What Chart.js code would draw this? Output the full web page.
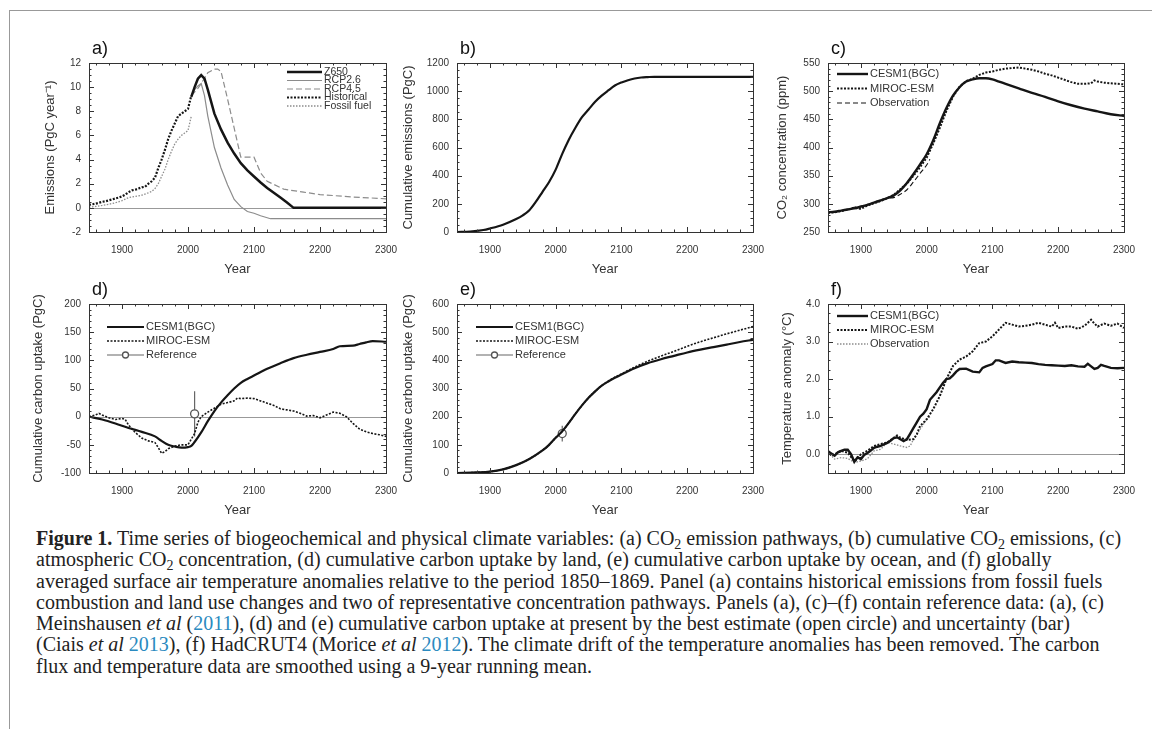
<!DOCTYPE html>
<html>
<head>
<meta charset="utf-8">
<script src="https://cdn.jsdelivr.net/npm/chart.js@4.4.0/dist/chart.umd.min.js"></script>
<style>
body { margin: 0; width: 1152px; height: 729px; background: #fff; position: relative; overflow: hidden; }
#frame { position: absolute; left: 9px; top: 10px; width: 1200px; height: 800px; border-left: 1.5px solid #999; border-top: 1.5px solid #999; }
canvas { position: absolute; }
#caption { position: absolute; left: 36px; top: 528px; font-family: "Liberation Serif", serif; font-size: 20px; line-height: 21.3px; color: #222; white-space: nowrap; }
#caption sub { font-size: 0.7em; line-height: 0; vertical-align: -0.25em; }
.cite { color: #2a8ac0; }
</style>
</head>
<body>
<div id="frame"></div>
<div id="caption">
<b>Figure 1.</b> Time series of biogeochemical and physical climate variables: (a) CO<sub>2</sub> emission pathways, (b) cumulative CO<sub>2</sub> emissions, (c)<br>
atmospheric CO<sub>2</sub> concentration, (d) cumulative carbon uptake by land, (e) cumulative carbon uptake by ocean, and (f) globally<br>
averaged surface air temperature anomalies relative to the period 1850–1869. Panel (a) contains historical emissions from fossil fuels<br>
combustion and land use changes and two of representative concentration pathways. Panels (a), (c)–(f) contain reference data: (a), (c)<br>
Meinshausen <i>et al</i> (<span class="cite">2011</span>), (d) and (e) cumulative carbon uptake at present by the best estimate (open circle) and uncertainty (bar)<br>
(Ciais <i>et al</i> <span class="cite">2013</span>), (f) HadCRUT4 (Morice <i>et al</i> <span class="cite">2012</span>). The climate drift of the temperature anomalies has been removed. The carbon<br>
flux and temperature data are smoothed using a 9-year running mean.
</div>
<script>
// x axis shared by all panels
const yearTicks = [1900, 2000, 2100, 2200, 2300];

// (a) emissions, PgC/yr
const z650 = [[2005,9.2],[2010,10.0],[2015,10.7],[2020,11.0],[2025,10.7],[2030,9.8],[2040,7.8],[2050,6.5],[2060,5.4],[2070,4.5],[2080,3.7],[2090,3.1],[2100,2.6],[2110,2.1],[2120,1.65],[2130,1.25],[2140,0.85],[2150,0.45],[2160,0],[2300,0]];
const rcp26 = [[2005,9.3],[2010,9.8],[2015,10.1],[2020,10.3],[2025,9.3],[2030,7.6],[2040,5.0],[2050,3.3],[2060,1.9],[2070,0.7],[2080,0.1],[2090,-0.3],[2100,-0.45],[2110,-0.65],[2125,-0.9],[2300,-0.9]];
const rcp45 = [[2005,9.3],[2010,9.6],[2015,9.9],[2020,10.3],[2030,11.2],[2040,11.5],[2045,11.5],[2050,11.3],[2060,9.0],[2070,6.6],[2080,4.2],[2100,4.2],[2110,2.9],[2120,2.2],[2145,1.55],[2175,1.3],[2200,1.1],[2250,0.9],[2300,0.75]];
const historical = [[1850,0.25],[1855,0.3],[1860,0.35],[1865,0.42],[1870,0.5],[1875,0.55],[1880,0.62],[1885,0.7],[1890,0.78],[1895,0.85],[1900,0.95],[1905,1.1],[1910,1.3],[1915,1.45],[1920,1.5],[1925,1.6],[1930,1.7],[1935,1.75],[1940,2.0],[1945,2.2],[1950,2.5],[1955,3.3],[1960,4.0],[1965,4.8],[1970,5.7],[1975,6.4],[1980,7.0],[1985,7.6],[1990,7.8],[1995,8.0],[2000,8.2],[2005,9.3]];
const fossil = [[1850,0.05],[1860,0.12],[1870,0.2],[1880,0.3],[1890,0.42],[1900,0.6],[1910,0.85],[1920,0.95],[1930,1.05],[1940,1.25],[1945,1.35],[1950,1.6],[1955,2.0],[1960,2.6],[1965,3.2],[1970,4.0],[1975,4.7],[1980,5.3],[1985,5.7],[1990,6.0],[1995,6.2],[2000,6.4],[2005,7.6]];

// (b) cumulative emissions, PgC
const cumEmis = [[1850,0],[1870,3],[1890,14],[1900,25],[1920,52],[1940,92],[1950,118],[1960,155],[1970,215],[1980,285],[1990,355],[2000,443],[2010,555],[2020,655],[2030,740],[2040,815],[2050,870],[2060,925],[2070,968],[2080,1005],[2090,1040],[2100,1062],[2110,1078],[2120,1090],[2130,1097],[2140,1100],[2150,1102],[2300,1102]];

// (c) CO2 concentration, ppm
const cesmCo2 = [[1850,285],[1860,286],[1870,288],[1880,290],[1890,292],[1900,295],[1910,298],[1920,302],[1930,306],[1940,310],[1950,315],[1960,324],[1970,337],[1980,353],[1990,370],[2000,388],[2010,413],[2020,443],[2030,470],[2040,492],[2050,507],[2060,517],[2070,521],[2080,523],[2090,523],[2100,521],[2110,517],[2120,513],[2140,505],[2160,497],[2180,490],[2200,482],[2220,475],[2240,469],[2260,464],[2280,459],[2300,456]];
const mirocCo2 = [[1850,284],[1860,285],[1870,287],[1880,290],[1890,293],[1900,291],[1910,297],[1920,301],[1930,305],[1940,310],[1950,316],[1960,326],[1970,336],[1980,350],[1990,365],[2000,382],[2010,407],[2020,435],[2030,465],[2040,490],[2050,508],[2060,518],[2070,522],[2080,529],[2090,533],[2100,535],[2110,538],[2120,540],[2130,541],[2140,542],[2150,540],[2160,538],[2170,535],[2180,531],[2190,528],[2200,524],[2210,520],[2220,516],[2230,513],[2240,513],[2250,514],[2255,519],[2260,517],[2270,515],[2280,514],[2290,513],[2300,512]];
const obsCo2 = [[1850,285],[1870,287],[1890,294],[1900,296],[1910,299],[1920,303],[1930,307],[1940,310],[1950,311],[1960,317],[1970,325],[1980,339],[1990,354],[2000,369],[2005,379]];

// (d) cumulative land uptake, PgC
const cesmLand = [[1850,0],[1870,-5],[1890,-12],[1910,-20],[1930,-27],[1950,-35],[1960,-43],[1970,-50],[1980,-53],[1990,-55],[2000,-54],[2005,-52],[2010,-45],[2020,-28],[2030,-8],[2040,10],[2050,25],[2060,38],[2070,50],[2080,60],[2090,67],[2100,73],[2120,85],[2140,95],[2160,104],[2180,110],[2200,115],[2220,120],[2230,125],[2250,126],[2260,129],[2270,132],[2280,134],[2300,133]];
const mirocLand = [[1850,0],[1860,3],[1865,6],[1870,3],[1880,-2],[1890,-5],[1900,-3],[1905,-5],[1910,-15],[1920,-28],[1930,-38],[1940,-43],[1950,-46],[1955,-55],[1960,-65],[1965,-62],[1970,-57],[1980,-52],[1990,-50],[2000,-50],[2010,-30],[2015,-10],[2020,0],[2030,8],[2040,15],[2050,22],[2060,25],[2070,28],[2075,33],[2080,32],[2090,33],[2100,32],[2110,28],[2120,24],[2130,20],[2140,14],[2150,12],[2160,10],[2170,6],[2180,1],[2190,2],[2200,-2],[2210,3],[2220,8],[2230,6],[2240,0],[2250,-12],[2260,-22],[2270,-27],[2280,-30],[2290,-32],[2300,-35]];
const refLand = [[2010,5]];
const refLandBar = [2010, -35, 45];

// (e) cumulative ocean uptake, PgC
const cesmOcean = [[1850,0],[1880,2],[1900,5],[1920,13],[1940,28],[1960,50],[1980,80],[1990,100],[2000,125],[2010,148],[2020,178],[2030,210],[2040,240],[2050,267],[2060,290],[2070,310],[2080,325],[2090,338],[2100,350],[2120,372],[2140,390],[2160,404],[2180,416],[2200,428],[2220,438],[2240,447],[2260,456],[2280,465],[2300,473]];
const mirocOcean = [[1850,0],[1880,2],[1900,5],[1920,13],[1940,28],[1960,50],[1980,80],[1990,100],[2000,125],[2010,148],[2020,178],[2030,210],[2040,240],[2050,267],[2060,290],[2070,310],[2080,326],[2090,340],[2100,352],[2120,376],[2140,397],[2160,415],[2180,432],[2200,450],[2220,466],[2240,480],[2260,494],[2280,507],[2300,520]];
const refOcean = [[2010,140]];
const refOceanBar = [2010, 112, 168];

// (f) temperature anomaly, degC
const cesmTemp = [[1850,0.08],[1855,0.02],[1860,-0.04],[1865,0.05],[1870,0.09],[1875,0.12],[1880,0.12],[1885,0.0],[1890,-0.2],[1895,-0.08],[1900,-0.13],[1905,-0.02],[1910,0.03],[1915,0.1],[1920,0.17],[1925,0.2],[1930,0.22],[1935,0.26],[1940,0.3],[1945,0.36],[1950,0.43],[1955,0.45],[1960,0.4],[1965,0.35],[1970,0.4],[1975,0.55],[1980,0.7],[1985,0.85],[1990,1.0],[1995,1.08],[2000,1.2],[2005,1.45],[2010,1.55],[2015,1.65],[2020,1.78],[2025,1.9],[2030,2.0],[2035,2.02],[2040,2.1],[2045,2.2],[2050,2.27],[2060,2.28],[2070,2.2],[2080,2.18],[2085,2.3],[2090,2.34],[2100,2.4],[2105,2.5],[2110,2.5],[2120,2.43],[2130,2.47],[2140,2.45],[2150,2.44],[2160,2.43],[2170,2.4],[2180,2.38],[2190,2.37],[2200,2.36],[2210,2.35],[2220,2.37],[2230,2.34],[2240,2.33],[2245,2.41],[2250,2.34],[2255,2.27],[2260,2.3],[2265,2.38],[2270,2.35],[2280,2.3],[2290,2.29],[2300,2.3]];
const mirocTemp = [[1850,0.09],[1855,-0.04],[1860,0.0],[1870,0.09],[1880,0.04],[1890,-0.18],[1895,-0.12],[1900,0.0],[1910,0.09],[1920,0.22],[1930,0.27],[1940,0.31],[1950,0.44],[1955,0.5],[1960,0.44],[1970,0.38],[1980,0.4],[1985,0.53],[1990,0.75],[2000,0.93],[2010,1.2],[2020,1.55],[2030,2.0],[2040,2.35],[2050,2.52],[2060,2.6],[2070,2.74],[2080,2.96],[2090,3.0],[2100,3.14],[2110,3.32],[2120,3.5],[2130,3.45],[2140,3.4],[2150,3.42],[2160,3.45],[2170,3.5],[2180,3.45],[2190,3.4],[2195,3.5],[2200,3.36],[2210,3.4],[2220,3.4],[2230,3.34],[2240,3.42],[2250,3.58],[2255,3.48],[2260,3.4],[2270,3.48],[2280,3.42],[2290,3.48],[2300,3.36]];
const obsTemp = [[1850,0.06],[1860,-0.13],[1870,-0.09],[1880,-0.11],[1890,-0.22],[1900,-0.18],[1910,-0.12],[1920,0.09],[1930,0.13],[1940,0.31],[1950,0.27],[1960,0.22],[1970,0.18],[1975,0.22],[1980,0.4],[1990,0.66],[2000,0.93],[2005,1.0]];

const FONT = '"Liberation Sans", Arial, sans-serif';
const pts = arr => arr.map(([x, y]) => ({ x, y }));

function line(label, data, color, width, dash, smooth) {
    return {
        label: label,
        data: pts(data),
        borderColor: color,
        borderWidth: width,
        borderDash: dash || [],
        pointRadius: 0,
        fill: false,
        cubicInterpolationMode: smooth ? "monotone" : "default",
        tension: 0,
    };
}

function refPoint(data) {
    return {
        label: "Reference",
        data: pts(data),
        showLine: false,
        borderColor: "#666",
        borderWidth: 1.2,
        pointRadius: 4,
        pointBackgroundColor: "#fff",
        pointBorderColor: "#555",
        pointBorderWidth: 1.3,
        marker: true,
    };
}

/* frame, inward ticks on all sides, zero line, legend, panel letter */
const deco = {
    id: "deco",
    beforeDatasetsDraw(chart, args, o) {
        const { ctx, chartArea: a, scales: { x, y } } = chart;
        ctx.save();
        if (o.zero) {
            const py = Math.round(y.getPixelForValue(0)) + 0.5;
            ctx.strokeStyle = "#999";
            ctx.lineWidth = 1;
            ctx.beginPath();
            ctx.moveTo(a.left, py);
            ctx.lineTo(a.right, py);
            ctx.stroke();
        }
        if (o.bar) {
            const px = x.getPixelForValue(o.bar[0]);
            ctx.strokeStyle = "#666";
            ctx.lineWidth = 1.2;
            ctx.beginPath();
            ctx.moveTo(px, y.getPixelForValue(o.bar[1]));
            ctx.lineTo(px, y.getPixelForValue(o.bar[2]));
            ctx.stroke();
        }
        ctx.restore();
    },
    afterDatasetsDraw(chart, args, o) {
        const { ctx, chartArea: a, scales: { x, y } } = chart;
        ctx.save();
        ctx.strokeStyle = "#333";
        ctx.lineWidth = 1;
        ctx.strokeRect(Math.round(a.left) + 0.5, Math.round(a.top) + 0.5,
            Math.round(a.right - a.left), Math.round(a.bottom - a.top));

        const xMajor = x.ticks.map(t => t.value);
        const yMajor = y.ticks.map(t => t.value);
        const isMajor = (v, list) => list.some(m => Math.abs(m - v) < 1e-6);
        ctx.beginPath();
        const nx = Math.round((x.max - x.min) / o.xMinor);
        for (let i = 0; i <= nx; i++) {
            const v = Math.ceil(x.min / o.xMinor) * o.xMinor + i * o.xMinor;
            if (v > x.max) break;
            const len = isMajor(v, xMajor) ? 5 : 2.5;
            const px = Math.round(x.getPixelForValue(v)) + 0.5;
            ctx.moveTo(px, a.bottom); ctx.lineTo(px, a.bottom - len);
            ctx.moveTo(px, a.top); ctx.lineTo(px, a.top + len);
        }
        const ny = Math.round((y.max - y.min) / o.yMinor);
        for (let i = 0; i <= ny; i++) {
            const v = y.min + i * o.yMinor;
            const len = isMajor(v, yMajor) ? 5 : 2.5;
            const py = Math.round(y.getPixelForValue(v)) + 0.5;
            ctx.moveTo(a.left, py); ctx.lineTo(a.left + len, py);
            ctx.moveTo(a.right, py); ctx.lineTo(a.right - len, py);
        }
        ctx.stroke();

        // panel letter
        ctx.fillStyle = "#111";
        ctx.font = "18px " + FONT;
        ctx.textBaseline = "alphabetic";
        ctx.fillText(o.letter, a.left + 3, a.top - 9);

        // legend built from the datasets
        const lg = o.legend;
        if (lg) {
            ctx.font = lg.size + "px " + FONT;
            ctx.textBaseline = "middle";
            let ly = a.top + lg.dy;
            chart.data.datasets.forEach(d => {
                const lx = a.left + lg.dx;
                ctx.strokeStyle = d.borderColor;
                ctx.lineWidth = d.borderWidth;
                ctx.setLineDash(d.borderDash || []);
                ctx.beginPath();
                ctx.moveTo(lx, ly);
                ctx.lineTo(lx + lg.len, ly);
                ctx.stroke();
                ctx.setLineDash([]);
                if (d.marker) {
                    ctx.fillStyle = "#fff";
                    ctx.strokeStyle = d.pointBorderColor;
                    ctx.lineWidth = d.pointBorderWidth;
                    ctx.beginPath();
                    ctx.arc(lx + lg.len / 2, ly, 3, 0, Math.PI * 2);
                    ctx.fill();
                    ctx.stroke();
                }
                ctx.fillStyle = "#333";
                ctx.fillText(d.label, lx + lg.len + 2, ly);
                ly += lg.gap;
            });
        }
        ctx.restore();
    },
};

function makePanel(box, datasets, yAxis, opts) {
    const W = box.r - box.l, H = box.b - box.t;
    const cv = document.createElement("canvas");
    cv.width = W + 89;
    cv.height = H + 90;
    cv.style.left = (box.l - 75) + "px";
    cv.style.top = (box.t - 40) + "px";
    document.body.appendChild(cv);

    return new Chart(cv.getContext("2d"), {
        type: "line",
        data: { datasets: datasets },
        options: {
            responsive: false,
            animation: false,
            devicePixelRatio: 1,
            layout: { padding: { left: 0, top: 40, right: 14, bottom: 0 } },
            plugins: { legend: { display: false }, tooltip: { enabled: false }, deco: opts },
            scales: {
                x: {
                    type: "linear",
                    min: 1850,
                    max: 2300,
                    afterBuildTicks: s => { s.ticks = yearTicks.map(v => ({ value: v })); },
                    afterFit: s => { s.height = 50; s.paddingLeft = 0; s.paddingRight = 0; },
                    grid: { display: false, drawTicks: false },
                    border: { display: false },
                    ticks: { padding: 12, autoSkip: false, maxRotation: 0, color: "#333", font: { family: FONT, size: 10 }, callback: v => String(v) },
                    title: { display: true, text: "Year", color: "#333", padding: { bottom: 5 }, font: { family: FONT, size: 13 } },
                },
                y: {
                    type: "linear",
                    min: yAxis.min,
                    max: yAxis.max,
                    afterBuildTicks: s => { s.ticks = yAxis.ticks.map(v => ({ value: v })); },
                    afterFit: s => { s.width = 75; s.paddingTop = 0; s.paddingBottom = 0; },
                    grid: { display: false, drawTicks: false },
                    border: { display: false },
                    ticks: { padding: 8, autoSkip: false, color: "#333", font: { family: FONT, size: 10 }, callback: yAxis.fmt || (v => String(v)) },
                    title: { display: true, text: yAxis.title, color: "#333", padding: { top: yAxis.titlePad }, font: { family: FONT, size: 13 } },
                },
            },
        },
        plugins: [deco],
    });
}

const BLACK = "#151515", GREY = "#8c8c8c";

makePanel({ l: 89, t: 63, r: 386, b: 232 }, [
    line("Z650", z650, BLACK, 2.5),
    line("RCP2.6", rcp26, GREY, 1.2),
    line("RCP4.5", rcp45, GREY, 1.2, [6, 3]),
    line("Historical", historical, BLACK, 2.2, [2, 1.5]),
    line("Fossil fuel", fossil, GREY, 1.3, [1.5, 1.5]),
], { min: -2, max: 12, ticks: [-2, 0, 2, 4, 6, 8, 10, 12], title: "Emissions (PgC year⁻¹)", titlePad: 29 },
{ letter: "a)", zero: true, xMinor: 20, yMinor: 0.5, legend: { dx: 198, dy: 9, gap: 8.5, len: 35, size: 10.5 } });

makePanel({ l: 457, t: 63, r: 753, b: 232 }, [
    line("", cumEmis, BLACK, 2.2, null, true),
], { min: 0, max: 1200, ticks: [0, 200, 400, 600, 800, 1000, 1200], title: "Cumulative emissions (PgC)", titlePad: 19 },
{ letter: "b)", xMinor: 20, yMinor: 50, legend: null });

makePanel({ l: 828, t: 63, r: 1124, b: 232 }, [
    line("CESM1(BGC)", cesmCo2, BLACK, 2.4, null, true),
    line("MIROC-ESM", mirocCo2, BLACK, 2, [2, 1.5]),
    line("Observation", obsCo2, BLACK, 1.1, [5, 3], true),
], { min: 250, max: 550, ticks: [250, 300, 350, 400, 450, 500, 550], title: "CO₂ concentration (ppm)", titlePad: 22 },
{ letter: "c)", xMinor: 20, yMinor: 10, legend: { dx: 9, dy: 11, gap: 14.5, len: 31, size: 11 } });

makePanel({ l: 89, t: 304, r: 386, b: 473 }, [
    line("CESM1(BGC)", cesmLand, BLACK, 2.2, null, true),
    line("MIROC-ESM", mirocLand, BLACK, 1.6, [2, 1.5]),
    refPoint(refLand),
], { min: -100, max: 200, ticks: [-100, -50, 0, 50, 100, 150, 200], title: "Cumulative carbon uptake (PgC)", titlePad: 17 },
{ letter: "d)", zero: true, bar: refLandBar, xMinor: 20, yMinor: 10, legend: { dx: 18, dy: 23, gap: 14, len: 37, size: 11 } });

makePanel({ l: 457, t: 304, r: 753, b: 473 }, [
    line("CESM1(BGC)", cesmOcean, BLACK, 2.2, null, true),
    line("MIROC-ESM", mirocOcean, BLACK, 1.6, [2, 1.5], true),
    refPoint(refOcean),
], { min: 0, max: 600, ticks: [0, 100, 200, 300, 400, 500, 600], title: "Cumulative carbon uptake (PgC)", titlePad: 19 },
{ letter: "e)", bar: refOceanBar, xMinor: 20, yMinor: 20, legend: { dx: 19, dy: 23, gap: 14, len: 37, size: 11 } });

makePanel({ l: 828, t: 304, r: 1124, b: 473 }, [
    line("CESM1(BGC)", cesmTemp, BLACK, 2.4),
    line("MIROC-ESM", mirocTemp, BLACK, 2, [2, 1.5]),
    line("Observation", obsTemp, GREY, 1.3, [1.5, 1.5]),
], { min: -0.5, max: 4, ticks: [0, 1, 2, 3, 4], title: "Temperature anomaly (°C)", titlePad: 27, fmt: v => v.toFixed(1) },
{ letter: "f)", zero: true, xMinor: 20, yMinor: 0.25, legend: { dx: 9, dy: 12, gap: 14, len: 31, size: 11 } });
</script>
</body>
</html>
